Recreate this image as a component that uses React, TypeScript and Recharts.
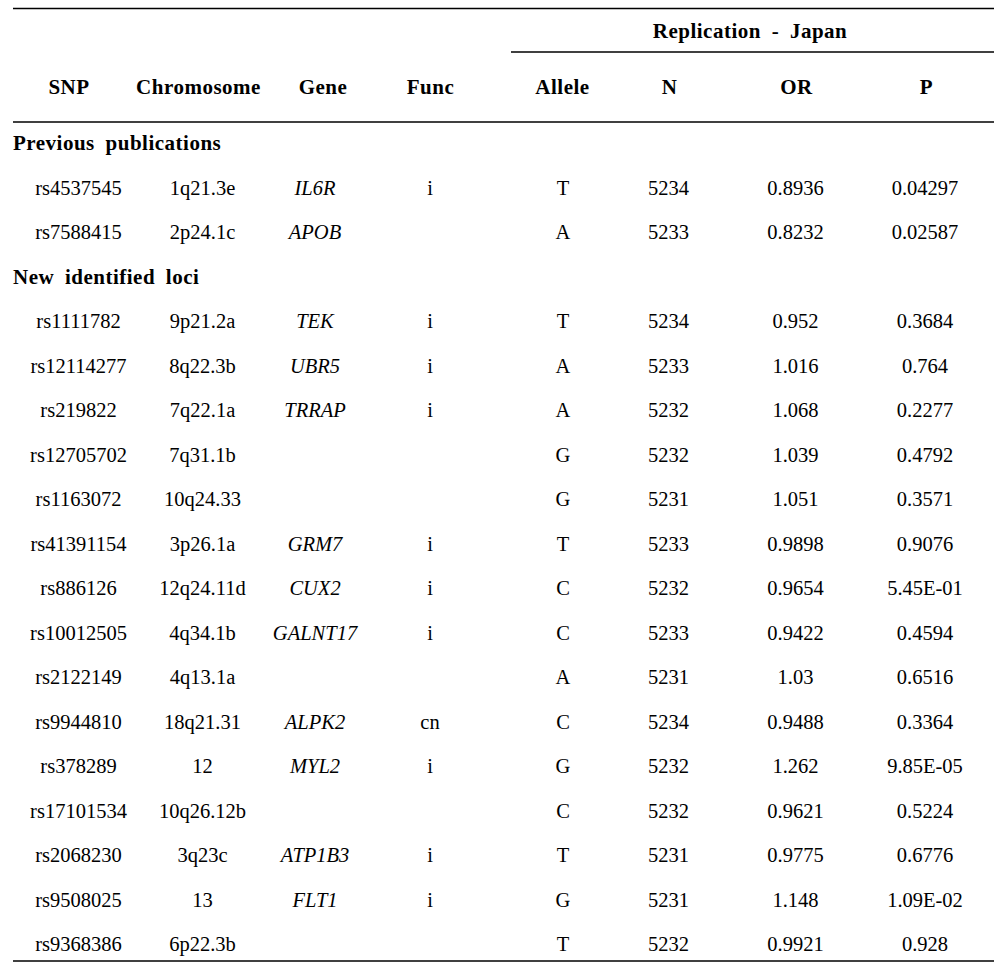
import React from 'react';
import { ScatterChart, Scatter, XAxis, YAxis, ReferenceLine } from 'recharts';

// ---------- data ----------
const snps = ['rs4537545','rs7588415','rs1111782','rs12114277','rs219822','rs12705702','rs1163072','rs41391154','rs886126','rs10012505','rs2122149','rs9944810','rs378289','rs17101534','rs2068230','rs9508025','rs9368386'];
const chromosomes = ['1q21.3e','2p24.1c','9p21.2a','8q22.3b','7q22.1a','7q31.1b','10q24.33','3p26.1a','12q24.11d','4q34.1b','4q13.1a','18q21.31','12','10q26.12b','3q23c','13','6p22.3b'];
const genes = ['IL6R','APOB','TEK','UBR5','TRRAP','','','GRM7','CUX2','GALNT17','','ALPK2','MYL2','','ATP1B3','FLT1',''];
const funcs = ['i','','i','i','i','','','i','i','i','','cn','i','','i','i',''];
const alleles = ['T','A','T','A','A','G','G','T','C','C','A','C','G','C','T','G','T'];
const ns = [5234,5233,5234,5233,5232,5232,5231,5233,5232,5233,5231,5234,5232,5232,5231,5231,5232];
const ors = ['0.8936','0.8232','0.952','1.016','1.068','1.039','1.051','0.9898','0.9654','0.9422','1.03','0.9488','1.262','0.9621','0.9775','1.148','0.9921'];
const ps = ['0.04297','0.02587','0.3684','0.764','0.2277','0.4792','0.3571','0.9076','5.45E-01','0.4594','0.6516','0.3364','9.85E-05','0.5224','0.6776','1.09E-02','0.928'];
const sectionTitles = ['Previous publications', 'New identified loci'];
const sectionSizes = [2, 15];
const columnHeaders = ['SNP','Chromosome','Gene','Func','Allele','N','OR','P'];
const groupHeader = 'Replication - Japan';

// ---------- layout (positions / styles) ----------
const W = 994;
const H = 974;
const ROW_TOP = 143.1;
const ROW_STEP = 44.51;
const toRow = (px: number) => (px - ROW_TOP) / ROW_STEP;
const Y_DOMAIN = [toRow(0), toRow(H)];
const HEADER_CENTERS = [69, 198.5, 323, 430.5, 562.5, 669.5, 796.5, 926.5];
const DATA_CENTERS = [78.5, 202.5, 315, 430, 563, 668.5, 795.5, 925];
const SECTION_X = 13;
const GROUP_CENTER = 750;
const LINE_LEFT = 13;
const GROUP_LINE_LEFT = 511;
const FS = 20.5;
const BOLD_FS = 21;
const FONT = '"Liberation Serif", "Times New Roman", serif';

const columns = [snps, chromosomes, genes, funcs, alleles, ns.map(String), ors, ps];
const italicCol = [false, false, true, false, false, false, false, false];

// build rows: section header rows + data rows
const sectionRows: { x: number; y: number; text: string }[] = [];
const dataRowIndex: number[] = [];
{
  let r = 0;
  let k = 0;
  sectionTitles.forEach((t, s) => {
    sectionRows.push({ x: SECTION_X, y: r, text: t });
    r += 1;
    for (let i = 0; i < sectionSizes[s]; i++) {
      dataRowIndex[k++] = r;
      r += 1;
    }
  });
}

const columnData = columns.map((vals, c) =>
  vals
    .map((v, i) => ({ x: DATA_CENTERS[c], y: dataRowIndex[i], text: v }))
    .filter((d) => d.text !== '')
);

const headerData = columnHeaders.map((h, c) => ({ x: HEADER_CENTERS[c], y: toRow(87), text: h }));
const groupData = [{ x: GROUP_CENTER, y: toRow(31), text: groupHeader }];

const makeText = (opts: { anchor: string; bold?: boolean; italic?: boolean }) => (props: any) => {
  const { cx, cy, payload } = props;
  const fs = opts.bold ? BOLD_FS : FS;
  return (
    <text
      x={cx}
      y={cy}
      dy={fs * 0.34}
      textAnchor={opts.anchor as any}
      fontFamily={FONT}
      fontSize={fs}
      fontWeight={opts.bold ? 'bold' : 'normal'}
      fontStyle={opts.italic ? 'italic' : 'normal'}
      fill="#000"
      style={opts.bold ? { letterSpacing: '0.5px', wordSpacing: '5px' } : undefined}
    >
      {payload.text}
    </text>
  );
};

const lineRows = [toRow(8.5), toRow(122), toRow(961)];

export default function App() {
  return (
    <div style={{ position: 'absolute', left: 0, top: 0, background: '#fff' }}>
      <ScatterChart width={W} height={H} margin={{ top: 0, right: 0, bottom: 0, left: 0 }}>
        <XAxis type="number" dataKey="x" domain={[0, W]} allowDataOverflow hide />
        <YAxis type="number" dataKey="y" domain={Y_DOMAIN} allowDataOverflow reversed hide />
        {lineRows.map((r, i) => (
          <ReferenceLine
            key={'l' + i}
            segment={[{ x: LINE_LEFT, y: r }, { x: W, y: r }]}
            stroke="#000"
            strokeWidth={1.5}
            ifOverflow="visible"
          />
        ))}
        <ReferenceLine
          segment={[{ x: GROUP_LINE_LEFT, y: toRow(52) }, { x: W, y: toRow(52) }]}
          stroke="#000"
          strokeWidth={1.5}
          ifOverflow="visible"
        />
        <Scatter data={groupData} isAnimationActive={false} shape={makeText({ anchor: 'middle', bold: true })} />
        <Scatter data={headerData} isAnimationActive={false} shape={makeText({ anchor: 'middle', bold: true })} />
        <Scatter data={sectionRows} isAnimationActive={false} shape={makeText({ anchor: 'start', bold: true })} />
        {columnData.map((d, c) => (
          <Scatter
            key={'c' + c}
            data={d}
            isAnimationActive={false}
            shape={makeText({ anchor: 'middle', italic: italicCol[c] })}
          />
        ))}
      </ScatterChart>
    </div>
  );
}
